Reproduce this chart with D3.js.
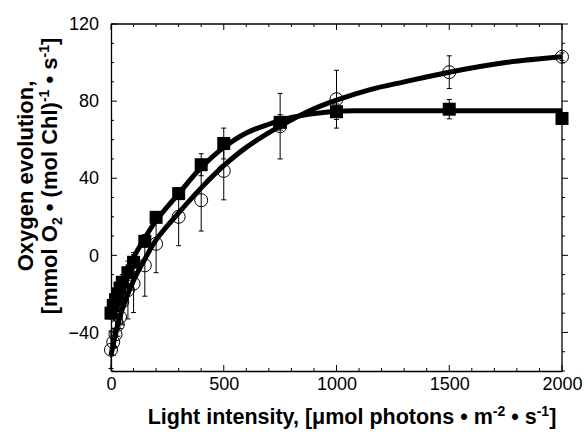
<!DOCTYPE html>
<html><head><meta charset="utf-8">
<script src="https://cdn.jsdelivr.net/npm/d3@7"></script>
<style>body{margin:0;background:#fff}svg{display:block}text{font-family:Arial,"Liberation Sans",sans-serif}</style>
</head><body><svg id="c" width="584" height="434"></svg>
<script>
// Light intensities of measured points
const lightLevels = [0, 10, 20, 30, 40, 50, 75, 100, 150, 200, 300, 400, 500, 750, 1000, 1500, 2000];
// Filled squares series
const squareValues = [-30, -26, -23, -20, -17, -14, -9, -3.6, 7.3, 19.7, 32, 47, 58, 69, 74.5, 75.8, 71];
const squareErrors = [3, 3, 3, 3, 3, 4, 4, 5, 3, 3, 3, 5.7, 8, 4, 4, 5, 3];
// Open circles series
const circleValues = [-49, -45, -41, -36, -32, -24, -18, -14.7, -5.2, 6, 20, 28.6, 43.8, 67, 81, 95, 103];
const circleErrors = [9.7, 7, 7, 6, 6, 12, 15, 15, 16, 15, 15, 16, 15, 17, 15, 8.5, 2];
// Fitted curves
const squareFitX = [0, 10, 25, 50, 100, 150, 200, 300, 400, 500, 600, 700, 800, 900, 1000, 1100, 1500, 2000];
const squareFitY = [-30, -25, -19, -12, -1, 9, 18, 32, 45.5, 56, 63.5, 68, 71.5, 73.5, 74.7, 75, 75, 75];
const circleFitX = [0, 10, 25, 50, 100, 150, 200, 300, 400, 500, 600, 750, 900, 1000, 1150, 1300, 1500, 1750, 2000];
const circleFitY = [-52, -46, -38, -28, -13, -2, 8, 22, 35, 46.5, 56, 67, 76, 80.5, 86, 90, 95, 100, 103];
// Axis ticks
const xTicks = [0, 500, 1000, 1500, 2000];
const yTicks = [-40, 0, 40, 80, 120];

const svg = d3.select("#c");
const x = d3.scaleLinear().domain([0, 2000]).range([111, 562]);
const y = d3.scaleLinear().domain([-60, 120]).range([371, 24]);

const g = svg.append("g");
const minorX = d3.range(0, 2001, 100), minorY = d3.range(-60, 121, 10);
const bx = d3.axisBottom(x).tickValues(xTicks).tickSize(0).tickPadding(6).tickFormat(d3.format("d"));
const bottom = g.append("g").attr("transform", `translate(0,${y(-60)})`).call(bx);
bottom.select(".domain").attr("stroke-width", 1.3);
bottom.selectAll("text").attr("font-size", 18).attr("fill", "#000");
const ly = d3.axisLeft(y).tickValues(yTicks).tickSize(0).tickPadding(12).tickFormat(d3.format("d"));
const left = g.append("g").attr("transform", `translate(${x(0)},0)`).call(ly);
left.select(".domain").attr("stroke-width", 1.3);
left.selectAll("text").attr("font-size", 18).attr("fill", "#000");
g.append("line").attr("x1", x(0)).attr("x2", x(2000)).attr("y1", y(120)).attr("y2", y(120)).attr("stroke", "#000").attr("stroke-width", 1.3);
g.append("line").attr("x1", x(2000)).attr("x2", x(2000)).attr("y1", y(120)).attr("y2", y(-60)).attr("stroke", "#000").attr("stroke-width", 1.3);
const tk = g.append("g").attr("stroke", "#000").attr("stroke-width", 1);
minorX.forEach(v => {
  const L = v % 500 === 0 ? 6 : 3;
  tk.append("line").attr("x1", x(v)).attr("x2", x(v)).attr("y1", y(-60)).attr("y2", y(-60) - L);
  tk.append("line").attr("x1", x(v)).attr("x2", x(v)).attr("y1", y(120)).attr("y2", y(120) + L);
});
minorY.forEach(v => {
  const L = (v % 40 === 0) ? 6 : 3;
  tk.append("line").attr("y1", y(v)).attr("y2", y(v)).attr("x1", x(0)).attr("x2", x(0) + L);
  tk.append("line").attr("y1", y(v)).attr("y2", y(v)).attr("x1", x(2000)).attr("x2", x(2000) + L);
});

const eb = svg.append("g").attr("stroke", "#000").attr("stroke-width", 1);
function errBars(vals, errs) {
  lightLevels.forEach((l, i) => {
    const cx = x(l), y1 = y(vals[i] - errs[i]), y2 = y(vals[i] + errs[i]);
    eb.append("line").attr("x1", cx).attr("x2", cx).attr("y1", y1).attr("y2", y2);
    eb.append("line").attr("x1", cx - 2.5).attr("x2", cx + 2.5).attr("y1", y1).attr("y2", y1);
    eb.append("line").attr("x1", cx - 2.5).attr("x2", cx + 2.5).attr("y1", y2).attr("y2", y2);
  });
}
errBars(circleValues, circleErrors);
errBars(squareValues, squareErrors);

const line = d3.line().x(d => x(d[0])).y(d => y(d[1])).curve(d3.curveCatmullRom.alpha(0.5));
svg.append("path").attr("d", line(circleFitX.map((v, i) => [v, circleFitY[i]])))
  .attr("fill", "none").attr("stroke", "#000").attr("stroke-width", 5);
svg.append("path").attr("d", line(squareFitX.map((v, i) => [v, squareFitY[i]])))
  .attr("fill", "none").attr("stroke", "#000").attr("stroke-width", 5);

svg.append("g").selectAll("circle").data(lightLevels).join("circle")
  .attr("cx", d => x(d)).attr("cy", (d, i) => y(circleValues[i])).attr("r", 6.5)
  .attr("fill", "none").attr("stroke", "#000").attr("stroke-width", 1);
svg.append("g").selectAll("rect").data(lightLevels).join("rect")
  .attr("x", d => x(d) - 6.5).attr("y", (d, i) => y(squareValues[i]) - 6.5)
  .attr("width", 13).attr("height", 13).attr("fill", "#000");

const xt = svg.append("text").attr("x", 352).attr("y", 424).attr("text-anchor", "middle")
  .attr("font-size", 21.5).attr("font-weight", "bold");
xt.append("tspan").text("Light intensity, [\u03bcmol photons \u2022 m");
xt.append("tspan").attr("dy", -8).attr("font-size", 14).text("-2");
xt.append("tspan").attr("dy", 8).text(" \u2022 s");
xt.append("tspan").attr("dy", -8).attr("font-size", 14).text("-1");
xt.append("tspan").attr("dy", 8).text("]");

const yt = svg.append("g").attr("transform", "translate(0,176) rotate(-90)");
yt.append("text").attr("x", 0).attr("y", 33).attr("text-anchor", "middle")
  .attr("font-size", 22).attr("font-weight", "bold").text("Oxygen evolution,");
const y2 = yt.append("text").attr("x", 0).attr("y", 57).attr("text-anchor", "middle")
  .attr("font-size", 22).attr("font-weight", "bold");
y2.append("tspan").text("[mmol O");
y2.append("tspan").attr("dy", 5).attr("font-size", 14).text("2");
y2.append("tspan").attr("dy", -5).text(" \u2022 (mol Chl)");
y2.append("tspan").attr("dy", -8).attr("font-size", 14).text("-1");
y2.append("tspan").attr("dy", 8).text(" \u2022 s");
y2.append("tspan").attr("dy", -8).attr("font-size", 14).text("-1");
y2.append("tspan").attr("dy", 8).text("]");
</script></body></html>
